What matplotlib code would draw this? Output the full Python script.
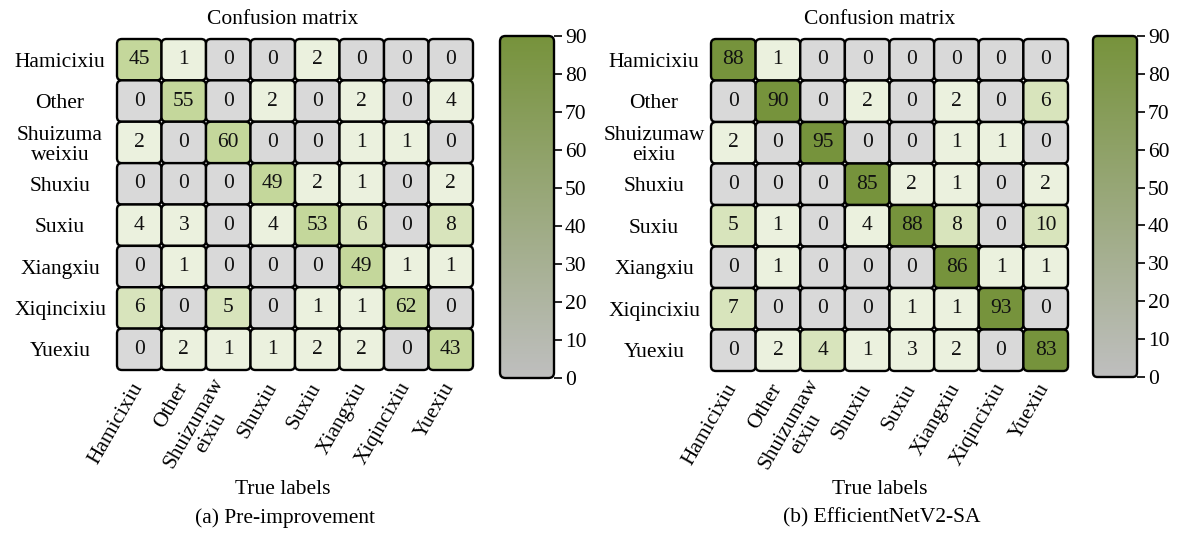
import numpy as np
import matplotlib
matplotlib.use('Agg')
import matplotlib.pyplot as plt
from matplotlib.patches import FancyBboxPatch
from matplotlib.colors import LinearSegmentedColormap

plt.rcParams['font.family'] = ['Liberation Serif', 'DejaVu Serif']
plt.rcParams['font.size'] = 15.5

# class names (x = true labels, y = predicted)
xlab_a = ['Hamicixiu', 'Other', 'Shuizumaw\neixiu', 'Shuxiu', 'Suxiu', 'Xiangxiu', 'Xiqincixiu', 'Yuexiu']
ylab_a = ['Hamicixiu', 'Other', 'Shuizuma\nweixiu', 'Shuxiu', 'Suxiu', 'Xiangxiu', 'Xiqincixiu', 'Yuexiu']
xlab_b = xlab_a
ylab_b = ['Hamicixiu', 'Other', 'Shuizumaw\neixiu', 'Shuxiu', 'Suxiu', 'Xiangxiu', 'Xiqincixiu', 'Yuexiu']

cm_before = np.array([
    [45, 1, 0, 0, 2, 0, 0, 0],
    [0, 55, 0, 2, 0, 2, 0, 4],
    [2, 0, 60, 0, 0, 1, 1, 0],
    [0, 0, 0, 49, 2, 1, 0, 2],
    [4, 3, 0, 4, 53, 6, 0, 8],
    [0, 1, 0, 0, 0, 49, 1, 1],
    [6, 0, 5, 0, 1, 1, 62, 0],
    [0, 2, 1, 1, 2, 2, 0, 43],
])

cm_after = np.array([
    [88, 1, 0, 0, 0, 0, 0, 0],
    [0, 90, 0, 2, 0, 2, 0, 6],
    [2, 0, 95, 0, 0, 1, 1, 0],
    [0, 0, 0, 85, 2, 1, 0, 2],
    [5, 1, 0, 4, 88, 8, 0, 10],
    [0, 1, 0, 0, 0, 86, 1, 1],
    [7, 0, 0, 0, 1, 1, 93, 0],
    [0, 2, 4, 1, 3, 2, 0, 83],
])

W, H = 1184, 535
fig = plt.figure(figsize=(W / 100, H / 100), dpi=100)


def px_axes(x, y, w, h):
    # place axes using pixel box measured from the top-left corner
    return fig.add_axes([x / W, 1 - (y + h) / H, w / W, h / H])


shades = ['#d9d9d9', '#ebf1de', '#d8e4bc', '#c4d79b', '#76933c']
cmap = LinearSegmentedColormap.from_list('olive', ['#bfbfbf', '#77933c'])


def tier(v):
    if v == 0:
        return 0
    if v < 5:
        return 1
    if v <= 10:
        return 2
    if v < 70:
        return 3
    return 4


def draw_matrix(ax, cm, xlabels, ylabels, bump=()):
    n = cm.shape[0]
    bb = ax.get_position()
    aspect = (bb.width * W) / (bb.height * H)
    for i in range(n):
        for j in range(n):
            t = min(tier(cm[i, j]) + ((i, j) in bump), 4)
            box = FancyBboxPatch((j, i), 1, 1, boxstyle='round,pad=0,rounding_size=0.11',
                                 mutation_aspect=aspect, fc=shades[t], ec='black',
                                 lw=1.7, clip_on=False)
            ax.add_patch(box)
            ax.text(j + 0.5, i + 0.5, str(cm[i, j]), ha='center', va='center', color='#111111')
    ax.set_xlim(0, n)
    ax.set_ylim(n, 0)
    for s in ax.spines.values():
        s.set_visible(False)
    ax.set_xticks(np.arange(n) + 0.5)
    ax.set_xticklabels(xlabels, rotation=60, ha='right', va='center',
                       rotation_mode='anchor', multialignment='center')
    ax.set_yticks(np.arange(n) + 0.5)
    ax.set_yticklabels(ylabels, ha='center', multialignment='center')
    for lab in ax.get_xticklabels() + ax.get_yticklabels():
        lab.set_linespacing(1.05)
    ax.tick_params(axis='x', length=0, pad=10)
    ax.tick_params(axis='y', length=0, pad=41)


def draw_colorbar(ax):
    grad = np.linspace(0, 90, 256).reshape(-1, 1)
    im = ax.imshow(grad, cmap=cmap, vmin=0, vmax=90, origin='lower',
                   extent=[0, 1, 0, 90], aspect='auto')
    ax.set_xlim(0, 1)
    ax.set_ylim(0, 90)
    bb = ax.get_position()
    # y units per pixel over x units per pixel
    asp = (90 / (bb.height * H)) / (1 / (bb.width * W))
    frame = FancyBboxPatch((0, 0), 1, 90, boxstyle='round,pad=0,rounding_size=0.1',
                           mutation_aspect=asp, fc='none', ec='black', lw=1.7, clip_on=False)
    ax.add_patch(frame)
    im.set_clip_path(frame)
    for s in ax.spines.values():
        s.set_visible(False)
    ax.set_xticks([])
    ax.yaxis.tick_right()
    ax.set_yticks(np.arange(0, 91, 10))
    ax.tick_params(axis='y', length=6, width=1.2, pad=2)


ax1 = px_axes(117, 39, 356, 331)
draw_matrix(ax1, cm_before, xlab_a, ylab_a)
cb1 = px_axes(500, 36, 54, 342)
draw_colorbar(cb1)

ax2 = px_axes(711, 39, 357, 332)
draw_matrix(ax2, cm_after, xlab_b, ylab_b, bump={(7, 2)})
cb2 = px_axes(1093, 36, 44, 341)
draw_colorbar(cb2)

for cx, cap in [(283, '(a) Pre-improvement'), (880, '(b) EfficientNetV2-SA')]:
    fig.text(cx / W, 1 - 20 / H, 'Confusion matrix', ha='center', va='center')
    fig.text(cx / W, 1 - 490 / H, 'True labels', ha='center', va='center')
    fig.text((cx + 2) / W, 1 - 518 / H, cap, ha='center', va='center')

fig.savefig('out.png', dpi=100)
